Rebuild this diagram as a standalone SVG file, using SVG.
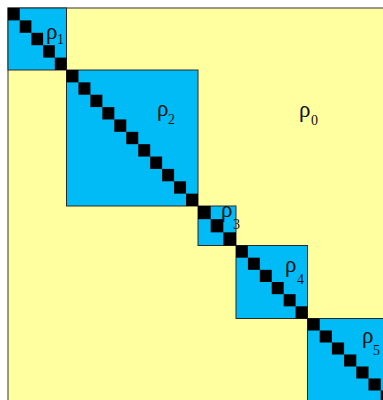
<svg xmlns="http://www.w3.org/2000/svg" width="383" height="400" viewBox="0 0 383 400">
<style>
.bg{fill:#FFFFA0;stroke:#333;stroke-width:1}
.blk{fill:#00BBF5;stroke:#2a2a2a;stroke-width:1}
.sq{fill:#000}
.lbl{font-family:"Liberation Serif","Times New Roman",serif;font-size:23px;fill:#111}
.sub{font-family:"Liberation Serif","Times New Roman",serif;font-size:14px;fill:#111}
</style>
<rect width="383" height="400" fill="#fff"/>
<g id="rho0">
<rect class="bg" x="8" y="8" width="390" height="400"/>
<text class="lbl" x="299" y="117">ρ</text><text class="sub" x="311" y="125">0</text>
</g>
<g id="rho1">
<rect class="blk" x="8" y="8" width="58.5" height="62"/>
<rect class="sq" x="8" y="8" width="11.7" height="12.4"/>
<rect class="sq" x="19.7" y="20.4" width="11.7" height="12.4"/>
<rect class="sq" x="31.4" y="32.8" width="11.7" height="12.4"/>
<rect class="sq" x="43.1" y="45.2" width="11.7" height="12.4"/>
<rect class="sq" x="54.8" y="57.6" width="11.7" height="12.4"/>
<text class="lbl" x="46" y="39">ρ</text><text class="sub" x="57" y="44">1</text>
</g>
<g id="rho2">
<rect class="blk" x="66.5" y="70" width="131.5" height="136"/>
<rect class="sq" x="66.5" y="70" width="11.96" height="12.36"/>
<rect class="sq" x="78.45" y="82.36" width="11.96" height="12.36"/>
<rect class="sq" x="90.41" y="94.73" width="11.96" height="12.36"/>
<rect class="sq" x="102.36" y="107.09" width="11.96" height="12.36"/>
<rect class="sq" x="114.32" y="119.45" width="11.96" height="12.36"/>
<rect class="sq" x="126.27" y="131.82" width="11.96" height="12.36"/>
<rect class="sq" x="138.23" y="144.18" width="11.96" height="12.36"/>
<rect class="sq" x="150.18" y="156.55" width="11.96" height="12.36"/>
<rect class="sq" x="162.14" y="168.91" width="11.96" height="12.36"/>
<rect class="sq" x="174.09" y="181.27" width="11.96" height="12.36"/>
<rect class="sq" x="186.05" y="193.64" width="11.96" height="12.36"/>
<text class="lbl" x="157" y="116">ρ</text><text class="sub" x="168" y="124">2</text>
</g>
<g id="rho3">
<rect class="blk" x="198" y="206" width="38" height="39.5"/>
<rect class="sq" x="198" y="206" width="12.67" height="13.17"/>
<rect class="sq" x="210.67" y="219.17" width="12.67" height="13.17"/>
<rect class="sq" x="223.33" y="232.33" width="12.67" height="13.17"/>
<text class="lbl" x="221" y="217">ρ</text><text class="sub" x="233" y="229">3</text>
</g>
<g id="rho4">
<rect class="blk" x="236" y="245.5" width="71.5" height="73"/>
<rect class="sq" x="236" y="245.5" width="11.92" height="12.17"/>
<rect class="sq" x="247.92" y="257.67" width="11.92" height="12.17"/>
<rect class="sq" x="259.83" y="269.83" width="11.92" height="12.17"/>
<rect class="sq" x="271.75" y="282" width="11.92" height="12.17"/>
<rect class="sq" x="283.67" y="294.17" width="11.92" height="12.17"/>
<rect class="sq" x="295.58" y="306.33" width="11.92" height="12.17"/>
<text class="lbl" x="285" y="272">ρ</text><text class="sub" x="297" y="284">4</text>
</g>
<g id="rho5">
<rect class="blk" x="307.5" y="318.5" width="90" height="90"/>
<rect class="sq" x="307.5" y="318.5" width="12.2" height="12"/>
<rect class="sq" x="319.7" y="330.5" width="12.2" height="12"/>
<rect class="sq" x="331.9" y="342.5" width="12.2" height="12"/>
<rect class="sq" x="344.1" y="354.5" width="12.2" height="12"/>
<rect class="sq" x="356.3" y="366.5" width="12.2" height="12"/>
<rect class="sq" x="368.5" y="378.5" width="12.2" height="12"/>
<rect class="sq" x="380.7" y="390.5" width="12.2" height="12"/>
<text class="lbl" x="362" y="343">ρ</text><text class="sub" x="373" y="355">5</text>
</g>
<g id="connectors"></g>
</svg>
